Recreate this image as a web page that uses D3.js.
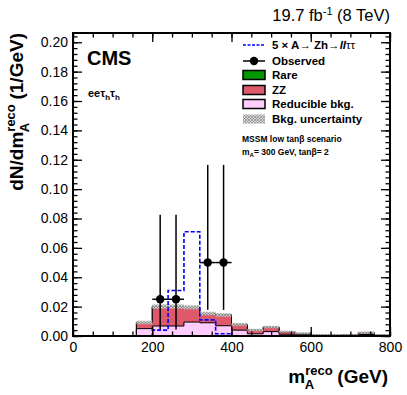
<!DOCTYPE html>
<html>
<head>
<meta charset="utf-8">
<script src="https://cdn.jsdelivr.net/npm/d3@7"></script>
<style>
  body { margin: 0; background: #fff; }
  svg { display: block; font-family: "Liberation Sans", Arial, sans-serif; }
</style>
</head>
<body>
<svg id="chart" width="407" height="395"></svg>
<script>
// bin edges (GeV), 40 GeV bins from 0 to 800
var binEdges = [0, 40, 80, 120, 160, 200, 240, 280, 320, 360, 400, 440, 480, 520, 560, 600, 640, 680, 720, 760, 800]

// background contributions per bin (1/GeV)
var reducible = [0, 0, 0, 0, 0.0050, 0.0068, 0.0068, 0.0095, 0.0090, 0.0070, 0.0040, 0.0015, 0.0030, 0.0012, 0.0008, 0.0003, 0.0003, 0.0002, 0.0010, 0.0002]
var zz = [0, 0, 0, 0, 0.0040, 0.0130, 0.0130, 0.0097, 0.0060, 0.0072, 0.0037, 0.0024, 0.0029, 0.0017, 0.0009, 0.0005, 0.0005, 0.0005, 0.0012, 0.0003]
var rare = [0, 0, 0, 0, 0.0002, 0.0003, 0.0003, 0.0003, 0.0003, 0.0002, 0.0002, 0.0002, 0.0002, 0.0001, 0.0001, 0.0001, 0.0001, 0.0001, 0.0001, 0]
var bkgUnc = [0, 0, 0, 0, 0.0012, 0.0015, 0.0015, 0.0014, 0.0012, 0.0012, 0.0009, 0.0008, 0.0008, 0.0006, 0.0005, 0.0004, 0.0004, 0.0004, 0.0008, 0.0003]

// 5 x signal
var signal = [0, 0, 0, 0, 0, 0.0040, 0.0310, 0.0710, 0.0110, 0.0015, 0, 0, 0, 0, 0, 0, 0, 0, 0, 0]

// observed
var obsX = [220, 260, 340, 380]
var obsY = [0.025, 0.025, 0.05, 0.05]
var obsLo = [0.0045, 0.0045, 0.0178, 0.0178]
var obsHi = [0.0825, 0.0825, 0.1165, 0.1165]

var yTickLabels = ['0.00', '0.02', '0.04', '0.06', '0.08', '0.10', '0.12', '0.14', '0.16', '0.18', '0.20']
var xTickLabels = ['0', '200', '400', '600', '800']

var svg = d3.select('#chart')
var frame = { left: 73, right: 390, top: 33, bottom: 336 }

var x = d3.scaleLinear().domain([0, 800]).range([frame.left, frame.right])
var y = d3.scaleLinear().domain([0, 0.2063]).range([frame.bottom, frame.top])

// hatch pattern for the uncertainty band
var defs = svg.append('defs')
var pat = defs.append('pattern')
  .attr('id', 'hatch')
  .attr('patternUnits', 'userSpaceOnUse')
  .attr('width', 3).attr('height', 3)
pat.append('rect').attr('width', 3).attr('height', 3).attr('fill', '#d8d8d8')
pat.append('path').attr('d', 'M0,3 L3,0 M0,0 L3,3').attr('stroke', '#888').attr('stroke-width', 0.7)

function histPoints (vals) {
  var pts = []
  vals.forEach(function (v, i) {
    pts.push([binEdges[i], v])
    pts.push([binEdges[i + 1], v])
  })
  return pts
}

var area = d3.area()
  .x(function (d) { return x(d[0]) })
  .y0(y(0))
  .y1(function (d) { return y(d[1]) })
var line = d3.line()
  .x(function (d) { return x(d[0]) })
  .y(function (d) { return y(d[1]) })

var lvlPink = reducible
var lvlZZ = reducible.map(function (v, i) { return v + zz[i] })
var lvlRare = lvlZZ.map(function (v, i) { return v + rare[i] })

var stack = [
  { vals: lvlRare, color: '#009900' },
  { vals: lvlZZ, color: '#de5a6a' },
  { vals: lvlPink, color: '#ffccff' }
]

var g = svg.append('g')
stack.forEach(function (s) {
  var pts = histPoints(s.vals)
  g.append('path').attr('d', area(pts)).attr('fill', s.color)
  g.append('path').attr('d', line(pts)).attr('fill', 'none').attr('stroke', '#000').attr('stroke-width', 1)
})

// uncertainty band
g.selectAll('.unc')
  .data(lvlRare.map(function (v, i) { return { i: i, v: v, u: bkgUnc[i] } }).filter(function (d) { return d.u > 0 }))
  .enter()
  .append('rect')
  .attr('class', 'unc')
  .attr('x', function (d) { return x(binEdges[d.i]) })
  .attr('width', function (d) { return x(binEdges[d.i + 1]) - x(binEdges[d.i]) })
  .attr('y', function (d) { return y(d.v + d.u) })
  .attr('height', function (d) { return y(d.v - d.u) - y(d.v + d.u) })
  .attr('fill', 'url(#hatch)')
  .attr('opacity', 0.9)

// signal
g.append('path')
  .attr('d', line(histPoints(signal)))
  .attr('fill', 'none')
  .attr('stroke', '#0000ff')
  .attr('stroke-width', 1.6)
  .attr('stroke-dasharray', '4,2')

// observed
var obs = obsX.map(function (v, i) { return { x: v, y: obsY[i], lo: obsLo[i], hi: obsHi[i] } })
var og = g.selectAll('.obs').data(obs).enter().append('g').attr('class', 'obs')
og.append('line')
  .attr('x1', function (d) { return x(d.x) }).attr('x2', function (d) { return x(d.x) })
  .attr('y1', function (d) { return y(d.lo) }).attr('y2', function (d) { return y(d.hi) })
  .attr('stroke', '#000').attr('stroke-width', 1.5)
og.append('line')
  .attr('x1', function (d) { return x(d.x - 20) }).attr('x2', function (d) { return x(d.x + 20) })
  .attr('y1', function (d) { return y(d.y) }).attr('y2', function (d) { return y(d.y) })
  .attr('stroke', '#000').attr('stroke-width', 1.5)
og.append('circle')
  .attr('cx', function (d) { return x(d.x) })
  .attr('cy', function (d) { return y(d.y) })
  .attr('r', 4.2)
  .attr('fill', '#000')

// axes
var yMajor = yTickLabels.map(Number)
var yMinor = d3.range(0, 0.2061, 0.004)
var xMajor = xTickLabels.map(Number)
var xMinor = d3.range(0, 801, 50)

function styleAxis (sel) {
  sel.select('.domain').remove()
  sel.selectAll('line').attr('stroke', '#000').attr('stroke-width', 1.3)
  sel.selectAll('text').attr('font-size', 14).attr('fill', '#000').attr('font-family', '"Liberation Sans", Arial, sans-serif')
}

svg.append('g').attr('transform', 'translate(' + frame.left + ',0)')
  .call(d3.axisLeft(y).tickValues(yMajor).tickSize(-9).tickPadding(5).tickFormat(d3.format('.2f')))
  .call(styleAxis)
svg.append('g').attr('transform', 'translate(' + frame.left + ',0)')
  .call(d3.axisLeft(y).tickValues(yMinor).tickSize(-4.5).tickFormat(''))
  .call(styleAxis)
svg.append('g').attr('transform', 'translate(' + frame.right + ',0)')
  .call(d3.axisRight(y).tickValues(yMajor).tickSize(-9).tickFormat(''))
  .call(styleAxis)
svg.append('g').attr('transform', 'translate(' + frame.right + ',0)')
  .call(d3.axisRight(y).tickValues(yMinor).tickSize(-4.5).tickFormat(''))
  .call(styleAxis)
svg.append('g').attr('transform', 'translate(0,' + frame.bottom + ')')
  .call(d3.axisBottom(x).tickValues(xMajor).tickSize(-9).tickPadding(6).tickFormat(d3.format('d')))
  .call(styleAxis)
svg.append('g').attr('transform', 'translate(0,' + frame.bottom + ')')
  .call(d3.axisBottom(x).tickValues(xMinor).tickSize(-4.5).tickFormat(''))
  .call(styleAxis)
svg.append('g').attr('transform', 'translate(0,' + frame.top + ')')
  .call(d3.axisTop(x).tickValues(xMajor).tickSize(-9).tickFormat(''))
  .call(styleAxis)
svg.append('g').attr('transform', 'translate(0,' + frame.top + ')')
  .call(d3.axisTop(x).tickValues(xMinor).tickSize(-4.5).tickFormat(''))
  .call(styleAxis)

svg.append('rect')
  .attr('x', frame.left).attr('y', frame.top)
  .attr('width', frame.right - frame.left).attr('height', frame.bottom - frame.top)
  .attr('fill', 'none').attr('stroke', '#000').attr('stroke-width', 2)

// titles
var title = svg.append('text').attr('x', 390).attr('y', 21).attr('text-anchor', 'end').attr('font-size', 16.5)
title.append('tspan').text('19.7 fb')
title.append('tspan').attr('font-size', 11).attr('dy', -6).text('-1')
title.append('tspan').attr('dy', 6).text(' (8 TeV)')

svg.append('text').attr('x', 87).attr('y', 65).attr('font-size', 20).attr('font-weight', 'bold').text('CMS')
var ch = svg.append('text').attr('x', 88).attr('y', 97).attr('font-size', 11).attr('font-weight', 'bold')
ch.append('tspan').text('ee\u03c4')
ch.append('tspan').attr('font-size', 8).attr('dy', 3).text('h')
ch.append('tspan').attr('dy', -3).text('\u03c4')
ch.append('tspan').attr('font-size', 8).attr('dy', 3).text('h')

var xt = svg.append('text').attr('x', 388).attr('y', 383).attr('text-anchor', 'end').attr('font-size', 19).attr('font-weight', 'bold')
xt.append('tspan').text('m')
xt.append('tspan').attr('font-size', 13).attr('dy', -8).text('reco')
xt.append('tspan').attr('font-size', 13).attr('dx', -28).attr('dy', 14).text('A')
xt.append('tspan').attr('dx', 18).attr('dy', -6).text(' (GeV)')

var yt = svg.append('text').attr('transform', 'translate(23,33) rotate(-90)').attr('text-anchor', 'end').attr('font-size', 19).attr('font-weight', 'bold')
yt.append('tspan').text('dN/dm')
yt.append('tspan').attr('font-size', 13).attr('dy', -8).text('reco')
yt.append('tspan').attr('font-size', 13).attr('dx', -28).attr('dy', 14).text('A')
yt.append('tspan').attr('dx', 18).attr('dy', -6).text(' (1/GeV)')

// legend
var lg = svg.append('g').attr('font-size', 11.5).attr('font-weight', 'bold')
var lx = 243, tx = 272
lg.append('line').attr('x1', lx).attr('x2', lx + 21).attr('y1', 45).attr('y2', 45)
  .attr('stroke', '#0000ff').attr('stroke-width', 1.6).attr('stroke-dasharray', '3,1.5')
var sigLabel = lg.append('text').attr('x', tx).attr('y', 49)
sigLabel.append('tspan').text('5 \u00d7 A\u2192 Zh\u2192')
sigLabel.append('tspan').attr('font-style', 'italic').text('ll')
sigLabel.append('tspan').attr('font-weight', 'normal').text('\u03c4\u03c4')

lg.append('line').attr('x1', lx).attr('x2', lx + 22).attr('y1', 61).attr('y2', 61).attr('stroke', '#000').attr('stroke-width', 1.5)
lg.append('circle').attr('cx', lx + 11).attr('cy', 61).attr('r', 4.2).attr('fill', '#000')
lg.append('text').attr('x', tx).attr('y', 65).text('Observed')

var boxes = [
  { label: 'Rare', fill: '#009900', y: 75 },
  { label: 'ZZ', fill: '#de5a6a', y: 90 },
  { label: 'Reducible bkg.', fill: '#ffccff', y: 104 },
  { label: 'Bkg. uncertainty', fill: 'url(#hatch)', y: 119 }
]
boxes.forEach(function (b) {
  lg.append('rect').attr('x', lx).attr('y', b.y - 4.5).attr('width', 22).attr('height', 9)
    .attr('fill', b.fill).attr('stroke', b.label === 'Bkg. uncertainty' ? 'none' : '#000').attr('stroke-width', 1.5)
  lg.append('text').attr('x', tx).attr('y', b.y + 4).text(b.label)
})

var sc = svg.append('g').attr('font-size', 8.5).attr('font-weight', 'bold')
sc.append('text').attr('x', 242).attr('y', 142).text('MSSM low tan\u03b2 scenario')
var ma = sc.append('text').attr('x', 242).attr('y', 155)
ma.append('tspan').text('m')
ma.append('tspan').attr('font-size', 6).attr('dy', 2).text('A')
ma.append('tspan').attr('dy', -2).text('= 300 GeV, tan\u03b2= 2')
</script>
</body>
</html>
